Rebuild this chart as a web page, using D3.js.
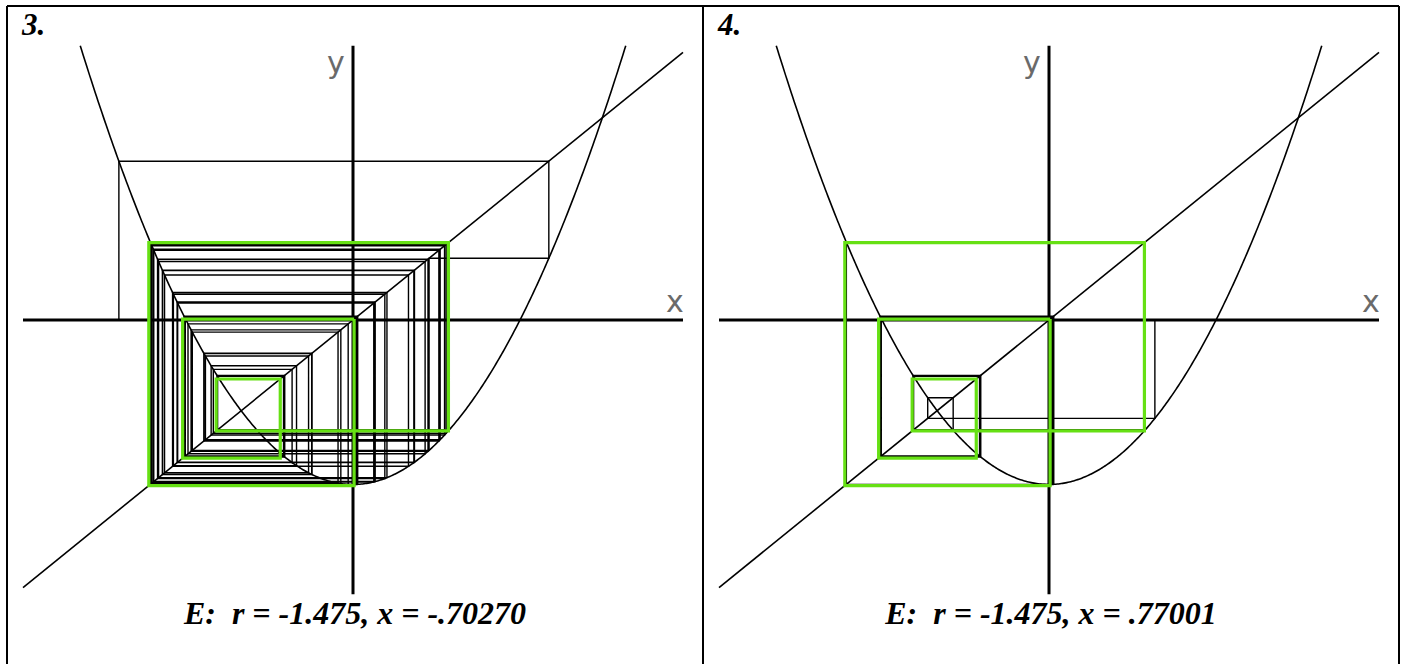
<!DOCTYPE html>
<html>
<head>
<meta charset="utf-8">
<script src="https://cdn.jsdelivr.net/npm/d3@7"></script>
<style>
  html, body { margin: 0; padding: 0; background: #fff; }
  svg { display: block; }
</style>
</head>
<body>
<svg id="chart" width="1403" height="664"></svg>
<script>
// Quadratic map f(x) = x^2 + r, cobweb diagrams for two starting values.
const R = -1.475;
const START = [-1.7027, 0.77001];
const PANEL_NUMBERS = ["3.", "4."];
const CAPTIONS = ["E:  r = -1.475, x = -.70270", "E:  r = -1.475, x = .77001"];
// period-6 cycle outlined in green
const CYCLE = [0.008, -1.485, 0.694, -0.995, -0.529, -1.239];
const STEPS = 400;
const X_DOMAIN = [-2.4, 2.4];
const Y_DOMAIN = [-2.46, 2.46];
const AXIS_NAMES = ["x", "y"];

const f = x => x * x + R;

const svg = d3.select("#chart");

// table frame
const frame = svg.append("g").attr("stroke", "#000").attr("stroke-width", 2).attr("fill", "none");
frame.append("line").attr("x1", 7).attr("x2", 1399).attr("y1", 6).attr("y2", 6);
frame.append("line").attr("x1", 7).attr("x2", 7).attr("y1", 6).attr("y2", 664);
frame.append("line").attr("x1", 703).attr("x2", 703).attr("y1", 6).attr("y2", 664);
frame.append("line").attr("x1", 1399).attr("x2", 1399).attr("y1", 6).attr("y2", 664);

const cellLeft = [8, 704];
const originY = 320;

START.forEach((x0, i) => {
  const ox = cellLeft[i] + 345;
  const xs = d3.scaleLinear().domain(X_DOMAIN).range([ox - 330, ox + 330]);
  const ys = d3.scaleLinear().domain(Y_DOMAIN).range([originY + 274.3, originY - 274.3]);
  const g = svg.append("g");
  const line = d3.line().x(d => xs(d[0])).y(d => ys(d[1]));

  // axes
  g.append("line")
    .attr("x1", xs(X_DOMAIN[0])).attr("x2", xs(X_DOMAIN[1]))
    .attr("y1", ys(0)).attr("y2", ys(0))
    .attr("stroke", "#000").attr("stroke-width", 3);
  g.append("line")
    .attr("x1", xs(0)).attr("x2", xs(0))
    .attr("y1", ys(Y_DOMAIN[1])).attr("y2", ys(Y_DOMAIN[0]))
    .attr("stroke", "#000").attr("stroke-width", 3);

  g.append("text").text(AXIS_NAMES[0])
    .attr("x", xs(0) + 313).attr("y", ys(0) - 8)
    .attr("font-family", "DejaVu Sans").attr("font-size", 30)
    .attr("fill", "#6a6a6a");
  g.append("text").text(AXIS_NAMES[1])
    .attr("x", xs(0) - 26).attr("y", 73)
    .attr("font-family", "DejaVu Sans").attr("font-size", 30)
    .attr("fill", "#6a6a6a");

  // diagonal y = x
  g.append("path")
    .attr("d", line([[X_DOMAIN[0], X_DOMAIN[0]], [X_DOMAIN[1], X_DOMAIN[1]]]))
    .attr("fill", "none").attr("stroke", "#000").attr("stroke-width", 1.6);

  // parabola
  const xEdge = Math.sqrt(Y_DOMAIN[1] - R);
  const curve = d3.range(-xEdge, xEdge + 1e-9, xEdge / 200).map(x => [x, f(x)]);
  g.append("path")
    .attr("d", line(curve))
    .attr("fill", "none").attr("stroke", "#000").attr("stroke-width", 1.6);

  // cobweb orbit
  const pts = [[x0, 0]];
  let x = x0;
  for (let k = 0; k < STEPS; k++) {
    const y = f(x);
    pts.push([x, y]);
    pts.push([y, y]);
    x = y;
  }
  g.append("path")
    .attr("d", line(pts))
    .attr("fill", "none").attr("stroke", "#000").attr("stroke-width", 1.4);

  // period-6 cycle
  const cyc = [];
  CYCLE.forEach((p, j) => {
    const q = CYCLE[(j + 1) % CYCLE.length];
    cyc.push([p, p], [p, q]);
  });
  cyc.push([CYCLE[0], CYCLE[0]]);
  g.append("path")
    .attr("d", line(cyc))
    .attr("fill", "none").attr("stroke", "#66e014").attr("stroke-width", 3.2)
    .attr("stroke-linejoin", "miter");

  // panel number and caption
  g.append("text").text(PANEL_NUMBERS[i])
    .attr("x", cellLeft[i] + 14).attr("y", 35)
    .attr("font-family", "Liberation Serif").attr("font-weight", "bold")
    .attr("font-style", "italic").attr("font-size", 31);
  g.append("text").text(CAPTIONS[i])
    .attr("x", xs(0) + 2).attr("y", 624)
    .attr("text-anchor", "middle")
    .style("white-space", "pre")
    .attr("font-family", "Liberation Serif").attr("font-weight", "bold")
    .attr("font-style", "italic").attr("font-size", 32);
});
</script>
</body>
</html>
